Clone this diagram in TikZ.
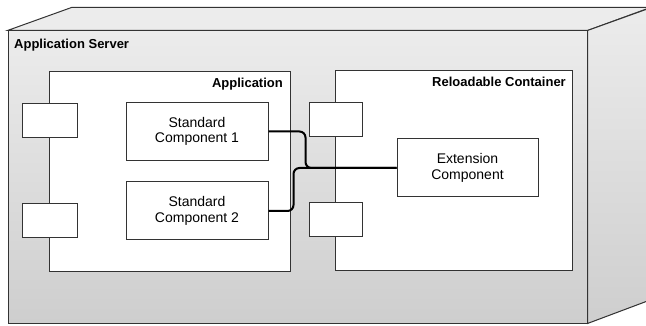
\documentclass[tikz,border=0pt]{standalone}
\usepackage{fontspec}
\setmainfont{Liberation Sans}
\usetikzlibrary{positioning}
\definecolor{edgegray}{RGB}{51,51,51}
\definecolor{facetop}{RGB}{236,236,236}
\definecolor{facebottom}{RGB}{206,206,206}
\tikzset{
  face/.style={draw=edgegray,line width=1pt,top color=facetop,bottom color=facebottom},
  box/.style={draw=edgegray,line width=1pt,fill=white,inner sep=0pt},
  port/.style={box,minimum width=55pt,minimum height=34pt},
  comp/.style={box,minimum width=142pt,minimum height=58pt,align=center,
               font=\fontsize{14}{15.5}\selectfont},
  title/.style={font=\fontsize{13}{15}\selectfont\bfseries,inner sep=0pt},
  link/.style={black,line width=2pt,rounded corners=6pt},
}

\begin{document}
\begin{tikzpicture}[x=1pt,y=-1pt]
  \useasboundingbox (0,0) rectangle (646,326);
  \clip (0,0) rectangle (646,326);

  % server cube
  \node[face,inner sep=0pt,minimum width=579pt,minimum height=292pt] (srv) at (297.5,177) {};
  \draw[draw=edgegray,line width=1pt,fill=facetop]
    (srv.north west) -- ++(64,-23) -- ++(579,0) -- (srv.north east) -- cycle;
  \draw[face] (srv.north east) -- ++(64,-23) -- ++(0,292) -- (srv.south east) -- cycle;
  \node[title,anchor=base west] at (14,49) {Application Server};

  % application
  \node[box,minimum width=241pt,minimum height=199pt] (app) at (169.5,171.5) {};
  \node[title,anchor=base east] at (283,88) {Application};
  \node[port] (appin1) at (49.5,121) {};
  \node[port] (appin2) at (49.5,221) {};
  \node[comp] (std1) at (197,131.5) {Standard\\Component 1};
  \node[comp] (std2) at (197,211) {Standard\\Component 2};

  % reloadable container
  \node[box,minimum width=237pt,minimum height=199pt] (cont) at (453.5,170.5) {};
  \node[title,anchor=base east] at (566,87) {Reloadable Container};
  \node[port,minimum width=53pt] (contin1) at (335.5,120) {};
  \node[port,minimum width=53pt] (contin2) at (335.5,220) {};
  \node[comp,minimum width=141pt] (ext) at (467.5,168) {Extension\\Component};

  % wiring
  \draw[link] (std1.east) -- ++(37,0) |- (ext.west);
  \draw[link] (std2.east) -- ++(25,0) |- (ext.west);
\end{tikzpicture}
\end{document}
